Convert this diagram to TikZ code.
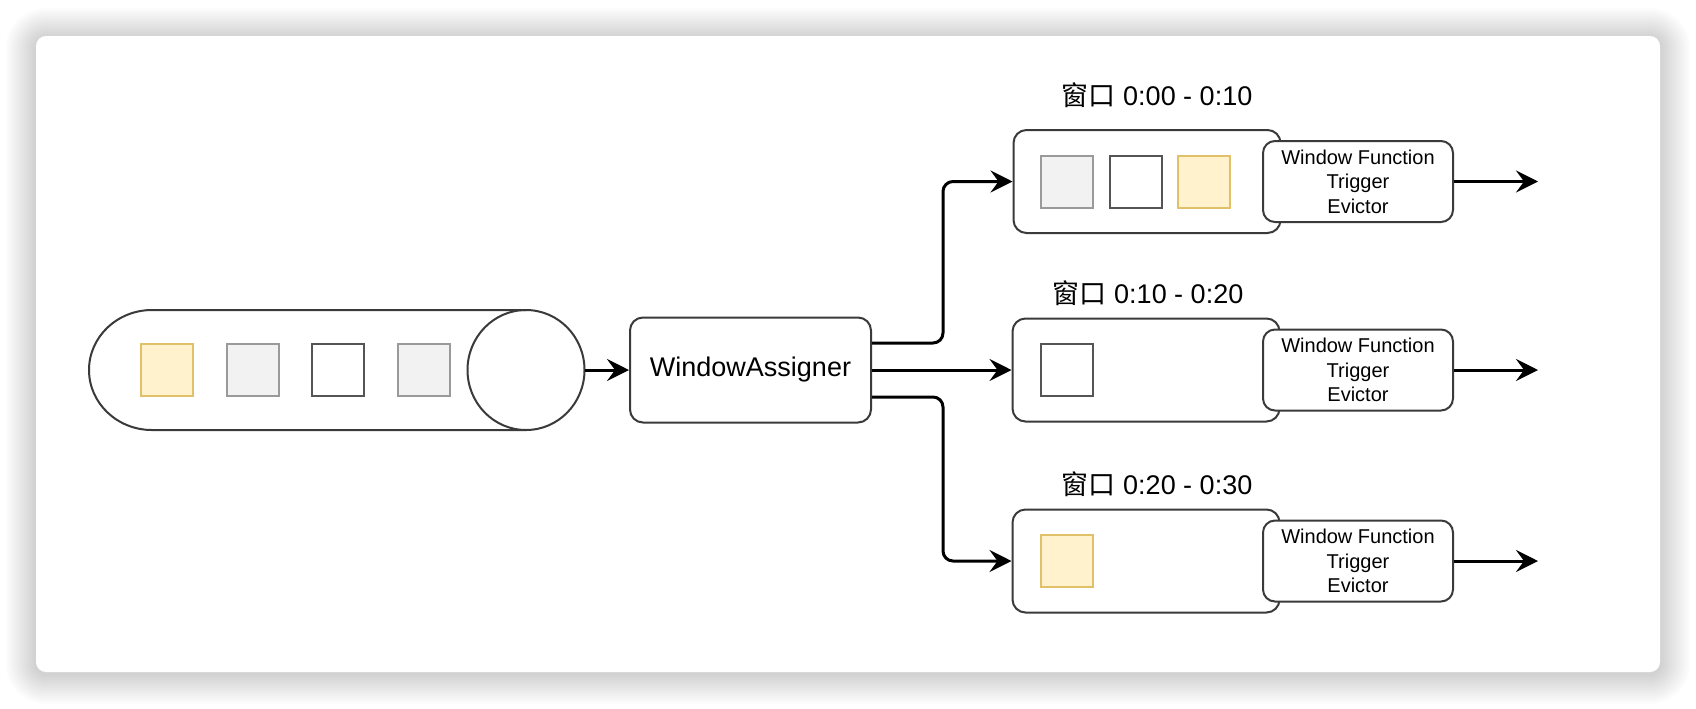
\documentclass[tikz,border=0pt]{standalone}
\usepackage{fontspec}
\setmainfont{Liberation Sans}
\newfontfamily\cjk{Noto Sans CJK SC}
\usetikzlibrary{arrows.meta}
\definecolor{lineColor}{HTML}{3A3A3A}
\definecolor{itemYellow}{HTML}{FFF2CC}
\definecolor{itemYellowLine}{HTML}{E0C068}
\definecolor{itemGray}{HTML}{F2F2F2}
\definecolor{itemGrayLine}{HTML}{9A9A9A}
\definecolor{itemLine}{HTML}{555555}

\tikzset{
  box/.style={draw=lineColor, line width=1pt, fill=white, rounded corners=6.5pt},
  winbox/.style={box, minimum width=133.5pt, minimum height=51.5pt},
  funcbox/.style={box, rounded corners=6pt, minimum width=95pt, minimum height=40.5pt,
    inner sep=0pt, align=center, font=\fontsize{10}{12.2}\selectfont},
  item/.style={minimum size=26pt, inner sep=0pt, line width=1pt},
  yitem/.style={item, fill=itemYellow, draw=itemYellowLine},
  gitem/.style={item, fill=itemGray, draw=itemGrayLine},
  witem/.style={item, fill=white, draw=itemLine},
  flow/.style={line width=1.5pt, -{Stealth[length=11pt, width=11pt, inset=4pt]}},
  title/.style={font=\fontsize{13.5}{16}\selectfont},
}

\begin{document}
\begin{tikzpicture}[x=0.5pt, y=-0.5pt]
    \useasboundingbox (0,0) rectangle (1696,708);
    % card with a soft shadow
    \foreach \d in {2,4,...,30}{
        \pgfmathsetmacro\rr{5+0.5*\d}
        \fill[black, opacity=0.012, rounded corners=\rr pt] (36-\d,38-\d) rectangle (1660+\d,674+\d);
    }
    \fill[white, rounded corners=5pt] (36,36) rectangle (1660,672);

    % input stream
    \draw[lineColor, line width=1pt] (526,310) -- (152,310)
        arc[start angle=90, end angle=270, x radius=31.5pt, y radius=30pt] -- (526,430);
    \draw[lineColor, line width=1pt] (526,370) ellipse[x radius=29.25pt, y radius=30pt];
    \coordinate (queue) at (584.5,370);
    \node[yitem] (q1) at (167,370) {};
    \node[gitem] (q2) at (253,370) {};
    \node[witem] (q3) at (338,370) {};
    \node[gitem] (q4) at (424,370) {};

    \node[box, minimum width=120.5pt, minimum height=52.5pt, font=\fontsize{13.5}{16}\selectfont]
        (assigner) at (750.5,370) {WindowAssigner};
    \draw[flow] (queue) -- (assigner.west);

    % windows
    \node[winbox] (w1) at (1147,181.5) {};
    \node[winbox] (w2) at (1146,370) {};
    \node[winbox] (w3) at (1146,561) {};
    \node[title] (t1) at (1157,95) {{\cjk 窗口} 0:00 - 0:10};
    \node[title] (t2) at (1148,293) {{\cjk 窗口} 0:10 - 0:20};
    \node[title] (t3) at (1157,484) {{\cjk 窗口} 0:20 - 0:30};
    \node[gitem] (w1a) at (1066.5,181.5) {};
    \node[witem] (w1b) at (1135.5,181.5) {};
    \node[yitem] (w1c) at (1203.5,181.5) {};
    \node[witem] (w2a) at (1067,370) {};
    \node[yitem] (w3a) at (1067,561) {};

    \foreach \i/\y in {1/181.5, 2/370, 3/561}{
        \node[funcbox] (f\i) at (1358,\y) {Window Function\\Trigger\\Evictor};
        \coordinate (out\i) at (1538,\y);
        \draw[flow] (f\i) -- (out\i);
    }

    \draw[flow, rounded corners=5pt] ([yshift=13.5pt]assigner.east) -- ++(71,0) |- (w1.west);
    \draw[flow] (assigner.east) -- (assigner.east -| w2.west);
    \draw[flow, rounded corners=5pt] ([yshift=-13.5pt]assigner.east) -- ++(71,0) |- (w3.west);
\end{tikzpicture}
\end{document}
